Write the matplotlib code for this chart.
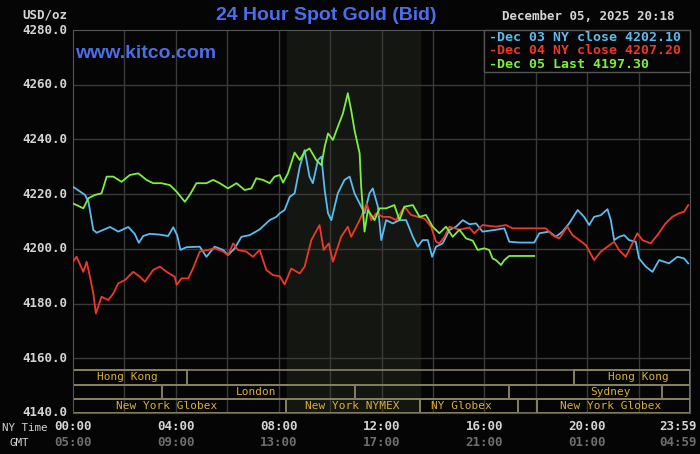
import matplotlib
matplotlib.use('Agg')
import matplotlib.pyplot as plt
from matplotlib.patches import Rectangle

# Kitco 24 uurs goudprijs (uur NY tijd, USD/oz)
dec03_hours = [0, 0.47, 0.6, 0.79, 0.92, 1.44, 1.76, 2.15, 2.4, 2.56, 2.73, 2.99, 3.38, 3.7, 3.9,
               4.05, 4.18, 4.41, 4.93, 5.19, 5.51, 5.84, 6.03, 6.29, 6.55, 6.87, 7.26, 7.65, 7.91,
               8.04, 8.23, 8.43, 8.62, 8.82, 9.01, 9.2, 9.33, 9.53, 9.66, 9.79, 9.92, 10.05, 10.3,
               10.56, 10.76, 10.95, 11.15, 11.34, 11.53, 11.66, 11.86, 11.99, 12.18, 12.44, 12.7,
               12.96, 13.22, 13.41, 13.6, 13.8, 13.97, 14.12, 14.38, 14.64, 14.9, 15.16, 15.42,
               15.68, 15.93, 16.39, 16.78, 16.97, 17.36, 17.94, 18.14, 18.52, 18.78, 19.04, 19.3,
               19.63, 19.88, 20.08, 20.27, 20.53, 20.79, 20.92, 21.05, 21.24, 21.44, 21.63, 21.89,
               22.02, 22.28, 22.54, 22.8, 23.18, 23.51, 23.77, 23.93]
dec03_vals = [4222.7, 4219.7, 4217.2, 4206.9, 4205.9, 4208.0, 4206.3, 4208.0, 4205.5, 4202.2, 4204.7,
              4205.5, 4205.2, 4204.7, 4207.9, 4205.0, 4199.6, 4200.6, 4200.8, 4197.1, 4200.8, 4199.6,
              4197.7, 4200.2, 4204.4, 4205.0, 4207.1, 4210.5, 4211.7, 4213.0, 4214.2, 4219.0, 4220.3,
              4230.0, 4236.1, 4226.4, 4224.0, 4232.5, 4233.7, 4221.5, 4213.0, 4210.5, 4220.3, 4225.2,
              4226.4, 4220.3, 4216.6, 4213.0, 4220.3, 4222.1, 4215.4, 4203.2, 4210.5, 4209.3, 4210.5,
              4210.5, 4204.4, 4200.8, 4203.2, 4203.2, 4197.1, 4200.8, 4202.0, 4206.9, 4208.1, 4210.5,
              4209.0, 4209.3, 4206.3, 4206.9, 4207.5, 4202.6, 4202.3, 4202.3, 4205.7, 4206.3, 4204.4,
              4206.3, 4209.3, 4214.2, 4211.7, 4208.7, 4211.7, 4212.3, 4214.5, 4210.5, 4203.2, 4204.4,
              4205.0, 4203.2, 4202.6, 4196.5, 4193.5, 4191.6, 4195.9, 4194.7, 4197.1, 4196.5, 4194.7]

dec04_hours = [0, 0.14, 0.4, 0.53, 0.66, 0.79, 0.89, 1.11, 1.37, 1.57, 1.76, 2.02, 2.34, 2.6, 2.8,
               3.12, 3.38, 3.64, 3.96, 4.03, 4.22, 4.48, 4.67, 4.93, 5.25, 5.51, 5.84, 6.03, 6.23,
               6.42, 6.74, 7.0, 7.26, 7.52, 7.78, 8.04, 8.23, 8.49, 8.82, 9.01, 9.27, 9.59, 9.75,
               9.95, 10.11, 10.43, 10.69, 10.82, 11.15, 11.43, 11.6, 11.79, 12.05, 12.31, 12.57,
               12.89, 13.15, 13.41, 13.67, 13.93, 14.12, 14.25, 14.45, 14.64, 15.03, 15.42, 15.61,
               15.93, 16.45, 16.84, 17.1, 18.01, 18.39, 18.65, 18.91, 19.23, 19.43, 19.69, 19.95,
               20.27, 20.53, 20.79, 21.05, 21.24, 21.5, 21.76, 21.95, 22.15, 22.47, 22.73, 23.05,
               23.31, 23.57, 23.77, 23.93]
dec04_vals = [4195.3, 4197.1, 4191.6, 4195.3, 4189.8, 4183.7, 4176.4, 4182.5, 4181.3, 4183.7, 4187.4,
              4188.6, 4191.6, 4189.8, 4188.0, 4192.3, 4193.5, 4191.6, 4189.8, 4186.8, 4189.2, 4189.2,
              4192.9, 4199.0, 4199.6, 4200.2, 4199.0, 4197.7, 4202.0, 4199.6, 4199.0, 4197.1, 4199.6,
              4192.3, 4190.4, 4190.0, 4187.0, 4192.8, 4191.0, 4193.5, 4203.2, 4208.7, 4199.6, 4202.0,
              4195.3, 4204.4, 4208.1, 4204.4, 4210.5, 4216.6, 4210.5, 4213.0, 4211.7, 4211.7, 4210.5,
              4215.4, 4212.4, 4211.7, 4211.1, 4208.1, 4202.6, 4202.0, 4204.4, 4208.1, 4207.0, 4207.8,
              4205.7, 4208.7, 4208.1, 4208.7, 4207.5, 4207.5, 4207.5, 4205.0, 4203.8, 4208.1, 4205.0,
              4203.2, 4201.4, 4195.9, 4199.0, 4200.8, 4202.6, 4199.6, 4197.1, 4202.0, 4205.7, 4203.2,
              4202.0, 4205.0, 4209.3, 4211.7, 4213.0, 4213.6, 4216.0]

dec05_hours = [0, 0.21, 0.4, 0.6, 0.85, 1.11, 1.31, 1.57, 1.89, 2.21, 2.54, 2.86, 3.12, 3.44, 3.77,
               4.03, 4.35, 4.54, 4.8, 5.19, 5.45, 5.71, 6.03, 6.36, 6.68, 6.94, 7.13, 7.39, 7.65,
               7.84, 8.04, 8.17, 8.36, 8.62, 8.82, 9.01, 9.2, 9.46, 9.66, 9.79, 9.92, 10.11, 10.3,
               10.5, 10.69, 10.82, 10.95, 11.15, 11.21, 11.34, 11.47, 11.73, 11.92, 12.18, 12.5,
               12.7, 12.89, 13.22, 13.48, 13.73, 13.99, 14.25, 14.51, 14.77, 15.03, 15.29, 15.55,
               15.74, 16.0, 16.19, 16.32, 16.45, 16.65, 16.78, 16.97, 17.94]
dec05_vals = [4216.6, 4215.7, 4214.8, 4218.5, 4219.7, 4220.3, 4226.4, 4226.4, 4224.5, 4227.0, 4227.6,
              4225.2, 4224.0, 4224.0, 4223.3, 4220.9, 4217.2, 4219.7, 4224.0, 4224.0, 4225.2, 4224.0,
              4222.1, 4224.0, 4221.5, 4222.1, 4225.8, 4225.2, 4224.0, 4226.4, 4227.0, 4224.2, 4227.6,
              4235.2, 4232.5, 4235.5, 4236.7, 4232.5, 4230.6, 4237.3, 4242.2, 4239.8, 4244.6, 4249.5,
              4256.9, 4250.7, 4243.4, 4234.9, 4222.7, 4206.3, 4214.2, 4210.5, 4214.8, 4214.8, 4216.0,
              4210.5, 4215.4, 4216.0, 4211.7, 4212.4, 4208.1, 4205.7, 4208.1, 4204.4, 4207.0, 4203.8,
              4203.0, 4199.6, 4200.2, 4199.6, 4196.5, 4195.9, 4194.1, 4195.9, 4197.4, 4197.4]

legend_labels = ['-Dec 03 NY close 4202.10', '-Dec 04 NY close 4207.20', '-Dec 05 Last 4197.30']

# handelssessies: naam, rij (0 = boven), begin, eind, plek van de tekst
session_names = ['Hong Kong', 'Hong Kong', 'London', 'Sydney',
                 'New York Globex', 'New York NYMEX', 'NY Globex', 'New York Globex']
session_rows = [0, 0, 1, 1, 2, 2, 2, 2]
session_start = [0, 19.5, 3.48, 16.97, 0, 8.3, 13.48, 18.03]
session_end = [4.45, 24, 10.95, 22.92, 8.3, 13.48, 17.3, 24]
session_text_x = [2.1, 21.99, 7.13, 20.92, 3.64, 10.87, 15.1, 20.92]

ny_ticks = [0, 4, 8, 12, 16, 20, 23.98]
ny_labels = ['00:00', '04:00', '08:00', '12:00', '16:00', '20:00', '23:59']
gmt_labels = ['05:00', '09:00', '13:00', '17:00', '21:00', '01:00', '04:59']
y_ticks = [4140, 4160, 4180, 4200, 4220, 4240, 4260, 4280]

blue = '#5bbcf0'
red = '#f0382a'
green = '#7ef03c'
mono = 'DejaVu Sans Mono'

W, H = 700, 454
fig = plt.figure(figsize=(7, 4.54), dpi=100, facecolor='#050505')
ax = fig.add_axes([73 / W, 1 - 413 / H, 617 / W, 383 / H], facecolor='#050505')
ax.set_xlim(0, 24)
ax.set_ylim(4140, 4280)

# NYMEX uren lichter
ax.axvspan(8.33, 13.5, color='#141612', zorder=0)

for h in range(2, 24, 2):
    ax.axvline(h, color='#3a3a3a', lw=1, zorder=1)
for v in y_ticks[1:-1]:
    ax.axhline(v, color='#3a3a3a', lw=1, zorder=1)

# sessiebalken onderaan
row_h = 5.2
for r in range(3):
    y0 = 4140 + (2 - r) * row_h
    ax.add_patch(Rectangle((0, y0), 24, row_h, fill=False, ec='#85815f', lw=1.2, zorder=2))
for name, r, s, e, tx in zip(session_names, session_rows, session_start, session_end, session_text_x):
    y0 = 4140 + (2 - r) * row_h
    ax.add_patch(Rectangle((s, y0), e - s, row_h, fill=False, ec='#85815f', lw=1.4, zorder=2))
    ax.text(tx, y0 + row_h / 2, name, color='#d8ae3a', family=mono, fontsize=8,
            ha='center', va='center', zorder=3)

ax.plot(dec03_hours, dec03_vals, color=blue, lw=1.3, zorder=4)
ax.plot(dec04_hours, dec04_vals, color=red, lw=1.3, zorder=4)
ax.plot(dec05_hours, dec05_vals, color=green, lw=1.3, zorder=5)

ax.set_xticks([])
ax.set_yticks([])
for sp in ax.spines.values():
    sp.set_color('#555555')

# aslabels zelf tekenen
for v in y_ticks:
    ypix = 413 - (v - 4140) * 383 / 140
    fig.text(67 / W, 1 - ypix / H, f'{v:.1f}', color='#d4d4d4', family=mono, fontsize=9,
             fontweight='bold', ha='right', va='center')
fig.text(67 / W, 1 - 15 / H, 'USD/oz', color='#d4d4d4', family=mono, fontsize=9,
         fontweight='bold', ha='right', va='center')
for t, l1, l2 in zip(ny_ticks, ny_labels, gmt_labels):
    xp = (73 + t * 617 / 24) / W
    ha = 'center'
    if t > 23:
        xp, ha = 697 / W, 'right'
    fig.text(xp, 1 - 427 / H, l1, color='#d4d4d4', family=mono, fontsize=9, fontweight='bold',
             ha=ha, va='center')
    fig.text(xp, 1 - 443 / H, l2, color='#6e6e6e', family=mono, fontsize=9, fontweight='bold',
             ha=ha, va='center')
fig.text(2 / W, 1 - 428 / H, 'NY Time', color='#d4d4d4', family=mono, fontsize=7.8,
         ha='left', va='center')
fig.text(10 / W, 1 - 443 / H, 'GMT', color='#d4d4d4', family=mono, fontsize=7.8,
         ha='left', va='center')

fig.text(326 / W, 1 - 16 / H, '24 Hour Spot Gold (Bid)', color='#4b6ef0',
         family='Liberation Sans', fontsize=14, fontweight='bold', ha='center', va='center')
fig.text(75 / W, 1 - 53 / H, 'www.kitco.com', color='#4a6ee8', family='Liberation Sans',
         fontsize=14, fontweight='bold', ha='left', va='center')
fig.text(588 / W, 1 - 17 / H, 'December 05, 2025 20:18', color='#d4d4d4', family=mono,
         fontsize=9, fontweight='bold', ha='center', va='center')

# legenda kader
fig.add_artist(Rectangle((484 / W, 1 - 72 / H), 206 / W, 42 / H, transform=fig.transFigure,
                         facecolor='#050505', edgecolor='#555555', lw=1, zorder=6))
for i, (lab, c) in enumerate(zip(legend_labels, [blue, red, green])):
    fig.text(489 / W, 1 - (37.5 + 13.5 * i) / H, lab, color=c, family=mono, fontsize=9.5,
             fontweight='bold', ha='left', va='center', zorder=7)

fig.savefig('out.png', dpi=100, facecolor=fig.get_facecolor())
